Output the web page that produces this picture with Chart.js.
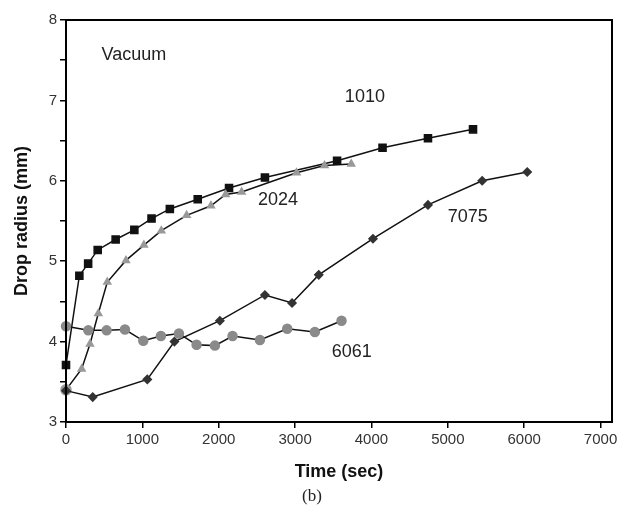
<!DOCTYPE html>
<html>
<head>
<meta charset="utf-8">
<script src="https://cdn.jsdelivr.net/npm/chart.js@4/dist/chart.umd.min.js"></script>
<style>
  html, body { margin: 0; padding: 0; background: #fff; }
  #wrap { width: 624px; height: 524px; }
</style>
</head>
<body>
<div id="wrap"><canvas id="c" width="624" height="524"></canvas></div>
<script>
// Drop radius vs time in vacuum, four alloys.
const t1010 = [0, 175, 290, 415, 650, 895, 1120, 1360, 1725, 2135, 2605, 3550, 4145, 4740, 5330];
const r1010 = [3.71, 4.82, 4.97, 5.14, 5.27, 5.39, 5.53, 5.65, 5.77, 5.91, 6.04, 6.25, 6.41, 6.53, 6.64];

const t2024 = [0, 205, 314, 423, 541, 785, 1020, 1248, 1580, 1898, 2090, 2300, 3019, 3385, 3735];
const r2024 = [3.40, 3.66, 3.97, 4.35, 4.74, 5.01, 5.20, 5.38, 5.57, 5.69, 5.83, 5.86, 6.10, 6.19, 6.21];

const t7075 = [0, 350, 1065, 1420, 2015, 2605, 2960, 3310, 4020, 4740, 5450, 6040];
const r7075 = [3.39, 3.31, 3.53, 4.00, 4.26, 4.58, 4.48, 4.83, 5.28, 5.70, 6.00, 6.11];

const t6061 = [0, 292, 532, 772, 1012, 1243, 1479, 1710, 1950, 2181, 2539, 2897, 3259, 3608];
const r6061 = [4.19, 4.14, 4.14, 4.15, 4.01, 4.07, 4.10, 3.96, 3.95, 4.07, 4.02, 4.16, 4.12, 4.26];

const xTicks = [0, 1000, 2000, 3000, 4000, 5000, 6000, 7000];
const yTicks = [3, 3.5, 4, 4.5, 5, 5.5, 6, 6.5, 7, 7.5, 8];

// In-plot labels, placed in data units.
const notes = [
  { text: 'Vacuum', x: 890, y: 7.56 },
  { text: '1010', x: 3914, y: 7.04 },
  { text: '2024', x: 2775, y: 5.76 },
  { text: '7075', x: 5262, y: 5.55 },
  { text: '6061', x: 3743, y: 3.87 },
];

const pts = (xs, ys) => xs.map((x, i) => ({ x, y: ys[i] }));
const FONT = '"Liberation Sans", Arial, sans-serif';

const frame = {
  id: 'frame',
  afterDraw(chart) {
    const { ctx, chartArea: a, scales } = chart;
    ctx.save();
    ctx.strokeStyle = '#000';
    ctx.lineWidth = 2;
    ctx.strokeRect(a.left, a.top, a.right - a.left, a.bottom - a.top);
    ctx.fillStyle = '#222';
    ctx.font = '18px ' + FONT;
    ctx.textAlign = 'center';
    ctx.textBaseline = 'middle';
    for (const n of notes) {
      ctx.fillText(n.text, scales.x.getPixelForValue(n.x), scales.y.getPixelForValue(n.y));
    }
    ctx.font = '17px "Liberation Serif", "Times New Roman", serif';
    ctx.fillText('(b)', chart.width / 2, 497);
    ctx.restore();
  },
};

new Chart(document.getElementById('c'), {
  type: 'line',
  data: {
    datasets: [
      {
        label: '6061',
        data: pts(t6061, r6061),
        clip: false,
        borderColor: '#111',
        borderWidth: 1.5,
        pointStyle: 'circle',
        pointRadius: 4.5,
        pointBackgroundColor: '#8a8a8a',
        pointBorderColor: '#8a8a8a',
      },
      {
        label: '7075',
        data: pts(t7075, r7075),
        clip: false,
        borderColor: '#111',
        borderWidth: 1.5,
        pointStyle: 'rectRot',
        pointRadius: 4,
        pointBackgroundColor: '#333',
        pointBorderColor: '#333',
      },
      {
        label: '2024',
        data: pts(t2024, r2024),
        clip: false,
        borderColor: '#111',
        borderWidth: 1.5,
        pointStyle: t2024.map((_, i) => (i === 0 ? 'circle' : 'triangle')),
        pointRadius: t2024.map((_, i) => (i === 0 ? 5 : 4)),
        pointBackgroundColor: '#999',
        pointBorderColor: '#999',
      },
      {
        label: '1010',
        data: pts(t1010, r1010),
        clip: false,
        borderColor: '#111',
        borderWidth: 1.5,
        pointStyle: 'rect',
        pointRadius: 5,
        pointBackgroundColor: '#111',
        pointBorderColor: '#111',
      },
    ],
  },
  options: {
    responsive: false,
    animation: false,
    layout: { padding: { left: 0, top: 20, right: 12, bottom: 0 } },
    plugins: { legend: { display: false }, tooltip: { enabled: false } },
    scales: {
      x: {
        type: 'linear',
        min: 0,
        max: 7150,
        afterBuildTicks: (s) => { s.ticks = xTicks.map((v) => ({ value: v })); },
        afterFit: (s) => { s.height = 102; },
        grid: { drawOnChartArea: false, drawTicks: true, tickLength: 6, color: '#000', lineWidth: 1.5 },
        border: { display: false },
        ticks: {
          color: '#333',
          font: { family: FONT, size: 15 },
          padding: 3,
          maxRotation: 0,
          callback: (v) => String(v),
        },
        title: {
          display: true,
          text: 'Time (sec)',
          color: '#111',
          font: { family: FONT, size: 18, weight: 'bold' },
          padding: { top: 4, bottom: 41 },
        },
      },
      y: {
        min: 3,
        max: 8,
        afterBuildTicks: (s) => { s.ticks = yTicks.map((v) => ({ value: v })); },
        afterFit: (s) => { s.width = 66; },
        grid: { drawOnChartArea: false, drawTicks: true, tickLength: 6, color: '#000', lineWidth: 1.5 },
        border: { display: false },
        ticks: {
          color: '#333',
          font: { family: FONT, size: 15 },
          padding: 3,
          callback: (v) => (Number.isInteger(v) ? String(v) : ''),
        },
        title: {
          display: true,
          text: 'Drop radius (mm)',
          color: '#111',
          font: { family: FONT, size: 18, weight: 'bold' },
          padding: { top: 11, bottom: 0 },
        },
      },
    },
  },
  plugins: [frame],
});
</script>
</body>
</html>
